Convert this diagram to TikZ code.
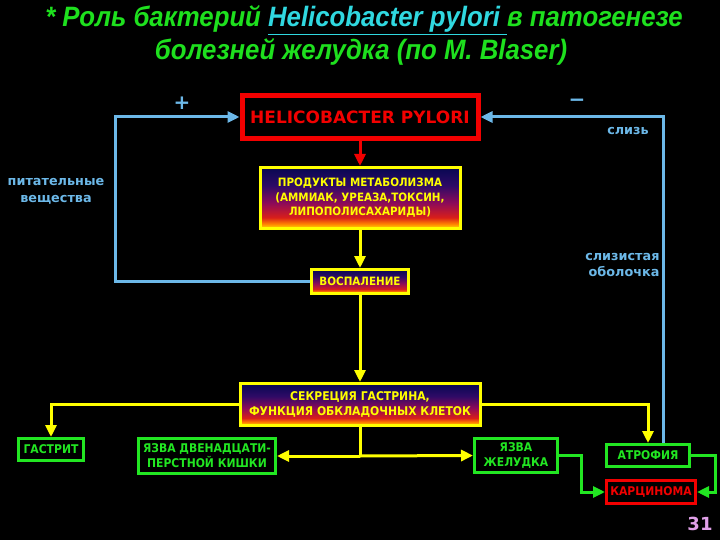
\documentclass[tikz,border=0pt]{standalone}
\usepackage{fontspec}
\setmainfont{DejaVu Sans}
\newfontfamily\boxfont[FakeStretch=0.9]{DejaVu Sans}
\newfontfamily\titlefont[FakeStretch=0.92]{Liberation Sans}
\usetikzlibrary{arrows.meta,calc,positioning}
\definecolor{hpRed}{HTML}{F20000}
\definecolor{hpYellow}{HTML}{FFFF00}
\definecolor{hpGreen}{HTML}{22E622}
\definecolor{hpBlue}{HTML}{6CB8E8}
\definecolor{hpTitle}{HTML}{1EE01E}
\definecolor{hpCyan}{HTML}{30D8E0}
\definecolor{hpPink}{HTML}{E0A0E8}
\pgfdeclareverticalshading{hpglow}{100bp}{rgb(0bp)=(1,0.9,0); rgb(25bp)=(1,0.9,0);
 rgb(29bp)=(1,0.5,0); rgb(34bp)=(0.85,0.12,0.1); rgb(46bp)=(0.55,0.04,0.35);
 rgb(60bp)=(0.18,0.04,0.4); rgb(75bp)=(0.03,0.03,0.32); rgb(100bp)=(0.03,0.03,0.32)}
\tikzset{
 hpfig/.style={line join=miter,font=\bfseries},
 boxbase/.style={rectangle,inner sep=0pt,align=center},
 hpbox/.style={boxbase,draw=hpRed,line width=5pt,fill=black,text=hpRed,font=\bfseries\fontsize{17}{20}\selectfont},
 glowbox/.style={boxbase,draw=hpYellow,line width=3pt,shading=hpglow,text=hpYellow,font=\boxfont\bfseries\fontsize{11.5}{14.5}\selectfont},
 outbox/.style={boxbase,draw=hpGreen,line width=3pt,fill=black,text=hpGreen,font=\boxfont\bfseries\fontsize{12}{15}\selectfont},
 endbox/.style={outbox,draw=hpRed,text=hpRed},
 tip/.style={-{Triangle[length=12pt,width=11pt]}},
 redline/.style={draw=hpRed,line width=3pt,tip},
 yline/.style={draw=hpYellow,line width=3pt},
 gline/.style={draw=hpGreen,line width=3pt},
 bline/.style={draw=hpBlue,line width=3pt},
 bluetext/.style={text=hpBlue,align=center,font=\bfseries\fontsize{12.8}{16.5}\selectfont},
 sign/.style={text=hpBlue,font=\bfseries\fontsize{20}{20}\selectfont},
 titletext/.style={text=hpTitle,font=\titlefont\bfseries\itshape\fontsize{28}{32}\selectfont}
}

\begin{document}
\begin{tikzpicture}[hpfig,x=1pt,y=-1pt]
 \fill[black] (0,0) rectangle (720,540);
 \useasboundingbox (0,0) rectangle (720,540);
 \node[titletext] (title1) at (364,20) {* Роль бактерий \textcolor{hpCyan}{\underline{Helicobacter pylori }}в патогенезе};
 \node[titletext] (title2) at (361,52) {болезней желудка (по M. Blaser)};
 \node[hpbox,minimum width=236pt,minimum height=43pt] (hp) at (360,117) {HELICOBACTER PYLORI};
 \node[glowbox,minimum width=200pt,minimum height=61pt] (prod) at (360,198) {ПРОДУКТЫ МЕТАБОЛИЗМА\\(АММИАК, УРЕАЗА,ТОКСИН,\\ЛИПОПОЛИСАХАРИДЫ)};
 \node[glowbox,minimum width=97pt,minimum height=24pt] (infl) at (360,281.5) {ВОСПАЛЕНИЕ};
 \node[glowbox,minimum width=240pt,minimum height=42pt,font=\boxfont\bfseries\fontsize{12}{15}\selectfont] (secr) at (360,404.5) {СЕКРЕЦИЯ ГАСТРИНА,\\ФУНКЦИЯ ОБКЛАДОЧНЫХ КЛЕТОК};
 \node[outbox,minimum width=65pt,minimum height=22pt] (gast) at (51,449.5) {ГАСТРИТ};
 \node[outbox,minimum width=137pt,minimum height=35pt] (duod) at (207,456) {ЯЗВА ДВЕНАДЦАТИ-\\ПЕРСТНОЙ КИШКИ};
 \node[outbox,minimum width=83pt,minimum height=34pt] (ulcer) at (516,455.5) {ЯЗВА\\ЖЕЛУДКА};
 \node[outbox,minimum width=83pt,minimum height=22pt] (atro) at (648,455.5) {АТРОФИЯ};
 \node[endbox,minimum width=89pt,minimum height=23pt] (carc) at (651,492) {КАРЦИНОМА};
 \draw[redline] (hp.south) -- (prod.north);
 \draw[yline,tip] (prod.south) -- (infl.north);
 \draw[yline,tip] (infl.south) -- (secr.north);
 \draw[yline,tip] (secr.west) -| (gast.north);
 \draw[yline,tip] (secr.east) -| (atro.north);
 \coordinate (fork) at (secr.south |- duod.east);
 \draw[yline] (secr.south) -- (fork);
 \draw[yline,tip] (fork) -- (duod.east);
 \draw[yline,tip] (fork) -- (ulcer.west);
 \draw[gline,tip] (ulcer.east) -- ++(22,0) |- (carc.west);
 \draw[gline,tip] (atro.east) -- ++(24,0) |- (carc.east);
 \coordinate (lcorner) at (115,281.5);
 \draw[bline,tip] (infl.west) -- (lcorner) |- (hp.west);
 \coordinate (rfoot) at ([xshift=15pt]atro.north);
 \draw[bline,tip] (rfoot) |- (hp.east);
 \node[sign] (plus) at (182,103) {+};
 \node[sign] (minus) at (577,103) {−};
 \node[bluetext] (food) at (56,191.5) {питательные\\вещества};
 \node[bluetext] (mucus) at (628,131) {слизь};
 \node[bluetext,align=right,anchor=east] (mucosa) at (663,265) {слизистая\\оболочка};
 \node[text=hpPink,font=\bfseries\fontsize{18}{20}\selectfont] (page) at (700,524) {31};
\end{tikzpicture}
\end{document}
